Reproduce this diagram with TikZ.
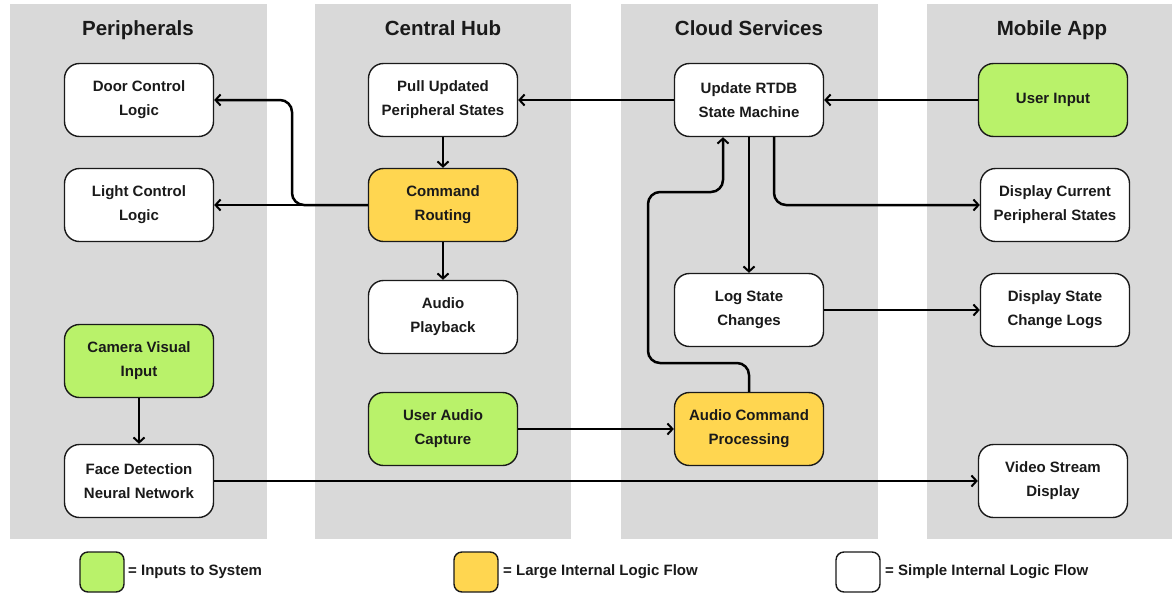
\documentclass[tikz,border=0pt]{standalone}
\usepackage{fontspec}
\setmainfont{Liberation Sans}
\usetikzlibrary{arrows.meta}
\definecolor{panelgray}{HTML}{D9D9D9}
\definecolor{ingreen}{HTML}{B9F26A}
\definecolor{bigyellow}{HTML}{FFD650}
\definecolor{inkc}{HTML}{1A1A1A}
\tikzset{
  box/.style={draw=inkc, line width=1.4pt, rounded corners=15pt, minimum width=149pt, minimum height=73pt,
    align=center, font=\fontsize{15}{24}\selectfont\bfseries, text=inkc, fill=white, inner sep=2pt},
  inbox/.style={box, fill=ingreen},
  bigbox/.style={box, fill=bigyellow},
  panel/.style={fill=panelgray, draw=none},
  coltitle/.style={font=\fontsize{20.5}{24}\selectfont\bfseries, text=inkc, anchor=base},
  arr/.style={draw=black, line width=2.5pt, -{Straight Barb[length=5pt,width=11pt,line width=2pt]}},
  legsq/.style={draw=inkc, line width=1.4pt, rounded corners=8pt, minimum width=44pt, minimum height=40pt, inner sep=0pt},
  legtext/.style={font=\fontsize{15}{18}\selectfont\bfseries, text=inkc, anchor=west, inner sep=0pt}
}
\begin{document}
\begin{tikzpicture}[x=1pt,y=-1pt]
\useasboundingbox (0,0) rectangle (1172,592);
\fill[white] (0,0) rectangle (1172,592);
% panels
\fill[panel] (10,4) rectangle (267,539);
\fill[panel] (315,4) rectangle (571,539);
\fill[panel] (621,4) rectangle (878,539);
\fill[panel] (927,4) rectangle (1172,539);
\node[coltitle] (t1) at (138,35) {Peripherals};
\node[coltitle] (t2) at (443,35) {Central Hub};
\node[coltitle] (t3) at (749,35) {Cloud Services};
\node[coltitle] (t4) at (1052,35) {Mobile App};
% nodes
\node[box] (door) at (139,100) {Door Control\\Logic};
\node[box] (light) at (139,205) {Light Control\\Logic};
\node[inbox] (camera) at (139,361) {Camera Visual\\Input};
\node[box] (face) at (139,481) {Face Detection\\Neural Network};
\node[box] (pull) at (443,100) {Pull Updated\\Peripheral States};
\node[bigbox] (cmd) at (443,205) {Command\\Routing};
\node[box] (play) at (443,317) {Audio\\Playback};
\node[inbox] (uac) at (443,429) {User Audio\\Capture};
\node[box] (rtdb) at (749,100) {Update RTDB\\State Machine};
\node[box] (log) at (749,310) {Log State\\Changes};
\node[bigbox] (acp) at (749,429) {Audio Command\\Processing};
\node[inbox] (uin) at (1053,100) {User Input};
\node[box] (dcur) at (1055,205) {Display Current\\Peripheral States};
\node[box] (dlog) at (1055,310) {Display State\\Change Logs};
\node[box] (vid) at (1053,481) {Video Stream\\Display};
% helper coordinates
\coordinate (dj) at (292,205);
\coordinate (a1) at (648,363);
\coordinate (a2) at (723,192);
% connectors
\draw[arr] (uin.west) -- (rtdb.east);
\draw[arr] (rtdb.west) -- (pull.east);
\draw[arr] (pull.south) -- (cmd.north);
\draw[arr] (cmd.west) -- (light.east);
\draw[arr, rounded corners=12pt] (cmd.west) -- (dj) |- (door.east);
\draw[arr] (cmd.south) -- (play.north);
\draw[arr] (rtdb.south) -- (log.north);
\draw[arr, rounded corners=12pt] ([xshift=25pt]rtdb.south) |- (dcur.west);
\draw[arr] (log.east) -- (dlog.west);
\draw[arr] (uac.east) -- (acp.west);
\draw[arr, rounded corners=12pt] (acp.north) |- (a1) |- (a2) -- (a2 |- rtdb.south);
\draw[arr] (face.east) -- (vid.west);
\draw[arr] (camera.south) -- (face.north);
% legend
\node[legsq, fill=ingreen] (lg1) at (102,572) {};
\node[legtext] (lt1) at (128,572) {= Inputs to System};
\node[legsq, fill=bigyellow] (lg2) at (476,572) {};
\node[legtext] (lt2) at (503,572) {= Large Internal Logic Flow};
\node[legsq, fill=white] (lg3) at (858,572) {};
\node[legtext] (lt3) at (885,572) {= Simple Internal Logic Flow};
\end{tikzpicture}
\end{document}
